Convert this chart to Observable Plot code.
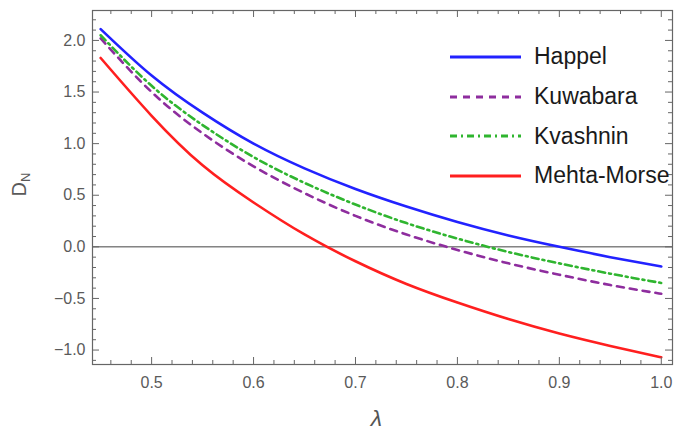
<!DOCTYPE html>
<html>
<head>
<meta charset="utf-8">
<script src="https://cdn.jsdelivr.net/npm/d3@7"></script>
<script src="https://cdn.jsdelivr.net/npm/@observablehq/plot@0.6"></script>
<style>
  body { margin: 0; background: #fff; }
  #wrap { position: relative; width: 679px; height: 438px; }
  #legend { position: absolute; left: 449px; top: 37px; font-family: "Liberation Sans", Arial, sans-serif; font-size: 23px; color: #1a1a1a; }
  .row { display: flex; align-items: center; height: 39.7px; }
  .row svg { display: block; margin-right: 12px; }
</style>
</head>
<body>
<div id="wrap"></div>
<script>
// ---- data ----
const lambda      = [0.45, 0.50, 0.55, 0.60, 0.65, 0.70, 0.75, 0.80, 0.85, 0.90, 0.95, 1.00];
const happel      = [2.11, 1.66, 1.30, 1.00, 0.76, 0.56, 0.39, 0.24, 0.11, 0.00, -0.10, -0.19];
const kuwabara    = [2.02, 1.50, 1.10, 0.78, 0.52, 0.30, 0.12, -0.03, -0.16, -0.27, -0.37, -0.455];
const kvashnin    = [2.05, 1.56, 1.18, 0.87, 0.62, 0.41, 0.23, 0.08, -0.05, -0.16, -0.26, -0.35];
const mehtaMorse  = [1.83, 1.27, 0.79, 0.43, 0.12, -0.14, -0.36, -0.54, -0.70, -0.84, -0.96, -1.07];

const seriesNames = ["Happel", "Kuwabara", "Kvashnin", "Mehta-Morse"];
const seriesVals  = [happel, kuwabara, kvashnin, mehtaMorse];

const xTickLabels = [0.5, 0.6, 0.7, 0.8, 0.9, 1.0];
const yTickLabels = [-1.0, -0.5, 0.0, 0.5, 1.0, 1.5, 2.0];

// ---- styles ----
const colors = ["#2222ff", "#8e2d9e", "#2fb52f", "#ff1f1f"];
const dashes = [null, "7,6", "7,4,2,4", null];

const W = 679, H = 438;
const mL = 92, mR = 7, mT = 10, mB = 74;
const innerW = W - mL - mR, innerH = H - mT - mB;

const rows = [];
seriesNames.forEach((name, i) => {
  lambda.forEach((l, j) => rows.push({series: name, lambda: l, value: seriesVals[i][j]}));
});

const xMinor = d3.range(46, 100, 2).map(d => d / 100).filter(d => !xTickLabels.some(t => Math.abs(t - d) < 1e-9));
const yMinor = d3.range(-11, 23, 1).map(d => d / 10).filter(d => !yTickLabels.some(t => Math.abs(t - d) < 1e-9));

const axisColor = "#666";
const majorLen = 7, minorLen = 4;

const marks = [
  Plot.ruleY([0], {stroke: "#444", strokeWidth: 1}),
  ...seriesNames.map((name, i) => Plot.line(rows.filter(r => r.series === name), {
    x: "lambda", y: "value", stroke: colors[i], strokeWidth: 2.6,
    strokeDasharray: dashes[i], curve: "natural"
  })),
  Plot.frame({stroke: axisColor, strokeWidth: 1.2}),
  // inward ticks on all four sides
  Plot.tickX(xTickLabels, {x: d => d, stroke: axisColor, insetTop: innerH - majorLen}),
  Plot.tickX(xTickLabels, {x: d => d, stroke: axisColor, insetBottom: innerH - majorLen}),
  Plot.tickX(xMinor, {x: d => d, stroke: axisColor, insetTop: innerH - minorLen}),
  Plot.tickX(xMinor, {x: d => d, stroke: axisColor, insetBottom: innerH - minorLen}),
  Plot.tickY(yTickLabels, {y: d => d, stroke: axisColor, insetRight: innerW - majorLen}),
  Plot.tickY(yTickLabels, {y: d => d, stroke: axisColor, insetLeft: innerW - majorLen}),
  Plot.tickY(yMinor, {y: d => d, stroke: axisColor, insetRight: innerW - minorLen}),
  Plot.tickY(yMinor, {y: d => d, stroke: axisColor, insetLeft: innerW - minorLen}),
  Plot.axisX(xTickLabels, {tickSize: 0, tickPadding: 12, tickFormat: d3.format(".1f"), color: "#5a5a5a", fontSize: 16, label: null}),
  Plot.axisY(yTickLabels, {tickSize: 0, tickPadding: 7, tickFormat: d3.format(".1f"), color: "#5a5a5a", fontSize: 16, label: null}),
  Plot.text(["λ"], {text: d => d, frameAnchor: "bottom", dy: 61, dx: -6, fontSize: 23, fontStyle: "italic", fill: "#555"}),
  Plot.text(["D"], {text: d => d, frameAnchor: "left", dx: -73, dy: 9, rotate: -90, fontSize: 20, fill: "#5a5a5a"})
];

const svg = Plot.plot({
  width: W, height: H,
  marginLeft: mL, marginRight: mR, marginTop: mT, marginBottom: mB,
  x: {domain: [0.442, 1.011]},
  y: {domain: [-1.14, 2.29]},
  style: {fontFamily: "'Liberation Sans', Arial, sans-serif", background: "#fff"},
  marks
});

// subscript N on the y label
d3.select(svg).selectAll("text").filter(function () { return this.textContent === "D"; })
  .append("tspan").attr("dy", "0.35em").attr("font-size", "13px").text("N");

const wrap = document.getElementById("wrap");
wrap.appendChild(svg);

// legend
const legend = document.createElement("div");
legend.id = "legend";
seriesNames.forEach((name, i) => {
  const row = document.createElement("div");
  row.className = "row";
  const s = d3.create("svg").attr("width", 73).attr("height", 10);
  s.append("line").attr("x1", 1).attr("x2", 72).attr("y1", 5).attr("y2", 5)
    .attr("stroke", colors[i]).attr("stroke-width", 2.8)
    .attr("stroke-dasharray", dashes[i]);
  row.appendChild(s.node());
  const t = document.createElement("span");
  t.textContent = name;
  row.appendChild(t);
  legend.appendChild(row);
});
wrap.appendChild(legend);
</script>
</body>
</html>
